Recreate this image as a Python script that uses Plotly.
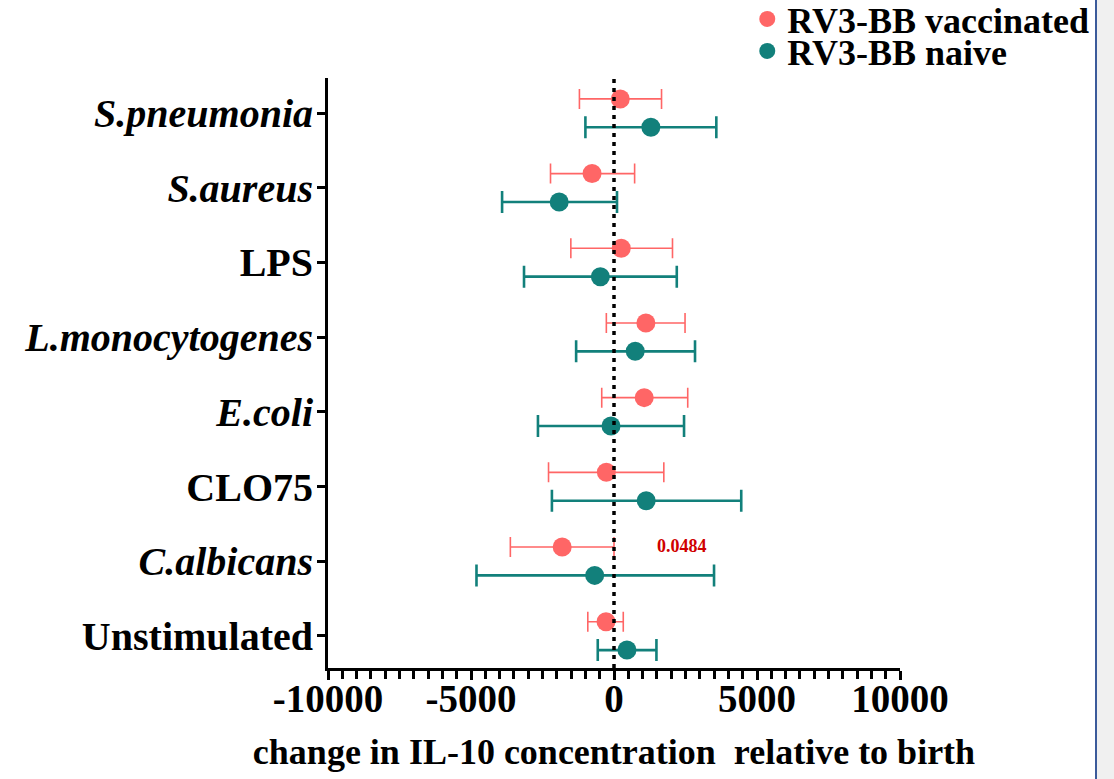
import plotly.graph_objects as go

categories = ["S.pneumonia", "S.aureus", "LPS", "L.monocytogenes",
              "E.coli", "CLO75", "C.albicans", "Unstimulated"]
italic = [True, True, False, True, True, False, True, False]

vacc_mean = [220, -767, 254, 1115, 1056, -268, -1812, -279]
vacc_low = [-1209, -2220, -1509, -268, -429, -2289, -3624, -916]
vacc_high = [1662, 721, 2045, 2484, 2578, 1742, 0, 324]

naive_mean = [1289, -1916, -477, 742, -105, 1125, -676, 453]
naive_low = [-1000, -3913, -3146, -1324, -2659, -2171, -4808, -568]
naive_high = [3578, 105, 2195, 2833, 2449, 4449, 3498, 1484]

x_ticks = [-10000, -5000, 0, 5000, 10000]
x_ticktext = ["-10000", "-5000", "0", "5000", "10000"]
p_label = "0.0484"
p_category = "C.albicans"
p_x = 2370

n = len(categories)
pos = [n - 1 - i for i in range(n)]
off = 0.19
vacc_y = [p + off for p in pos]
naive_y = [p - off for p in pos]

VAC = "#FF6666"
NAI = "#12807B"
FONT = "Liberation Serif"

fig = go.Figure()
fig.add_trace(go.Scatter(
    x=vacc_mean, y=vacc_y, mode="markers", name="RV3-BB vaccinated",
    legend="legend",
    marker=dict(color=VAC, size=19),
    error_x=dict(type="data", symmetric=False,
                 array=[h - m for h, m in zip(vacc_high, vacc_mean)],
                 arrayminus=[m - l for l, m in zip(vacc_low, vacc_mean)],
                 color=VAC, thickness=1.6, width=10),
))
fig.add_trace(go.Scatter(
    x=naive_mean, y=naive_y, mode="markers", name="RV3-BB naive",
    legend="legend2",
    marker=dict(color=NAI, size=19),
    error_x=dict(type="data", symmetric=False,
                 array=[h - m for h, m in zip(naive_high, naive_mean)],
                 arrayminus=[m - l for l, m in zip(naive_low, naive_mean)],
                 color=NAI, thickness=2.6, width=11),
))

ticktext = [f"<i>{c}</i>" if it else c for c, it in zip(categories, italic)]

pi = categories.index(p_category)
fig.add_annotation(x=p_x, y=pos[pi] + 0.2, text=p_label, showarrow=False,
                   font=dict(family=FONT, size=18, color="#D00000", weight="bold"))

fig.add_shape(type="line", x0=0, x1=0, xref="x", y0=0, y1=1, yref="paper",
              line=dict(color="black", width=3.5, dash="4px,5px"))

# screenshot edge (grey strip with blue border line)
fig.add_shape(type="rect", xref="paper", yref="paper",
              x0=(1096 - 328) / 572, x1=(1120 - 328) / 572,
              y0=-0.2, y1=1.15, fillcolor="#F0F0F0", line=dict(width=0), layer="below")
fig.add_shape(type="line", xref="paper", yref="paper",
              x0=(1096 - 328) / 572, x1=(1096 - 328) / 572,
              y0=-0.2, y1=1.15, line=dict(color="#3B5A9A", width=2))

legfont = dict(family=FONT, size=36, color="black", weight="bold")
fig.update_layout(
    width=1114, height=779,
    margin=dict(l=328, r=214, t=78, b=111, autoexpand=False),
    plot_bgcolor="white", paper_bgcolor="white",
    font=dict(family=FONT, color="black", weight="bold"),
    showlegend=True,
    legend=dict(x=0.733, y=(668 - 19) / 590, xanchor="left", yanchor="middle",
                font=legfont, bgcolor="rgba(0,0,0,0)", itemwidth=30,
                borderwidth=0),
    legend2=dict(x=0.733, y=(668 - 51) / 590, xanchor="left", yanchor="middle",
                 font=legfont, bgcolor="rgba(0,0,0,0)", itemwidth=30,
                 borderwidth=0),
    xaxis=dict(range=[-10000, 10000], tickvals=x_ticks, ticktext=x_ticktext,
               showline=True, linewidth=3, linecolor="black",
               ticks="outside", ticklen=9, tickwidth=3, tickcolor="black",
               minor=dict(dtick=500, ticks="outside", ticklen=8, tickwidth=3, tickcolor="black"),
               showgrid=False, zeroline=False,
               tickfont=dict(family=FONT, size=39, color="black", weight="bold"),
               ticklabelstandoff=-15,
               title=dict(text="change in IL-10 concentration  relative to birth",
                          font=dict(family=FONT, size=36, color="black", weight="bold"),
                          standoff=21)),
    yaxis=dict(range=[-0.43, 7.47], tickvals=pos, ticktext=ticktext,
               showline=True, linewidth=3, linecolor="black",
               ticks="outside", ticklen=8, tickwidth=3, tickcolor="black",
               showgrid=False, zeroline=False,
               ticklabelstandoff=-4,
               tickfont=dict(family=FONT, size=40, color="black", weight="bold")),
)

fig.write_html("out.html")
